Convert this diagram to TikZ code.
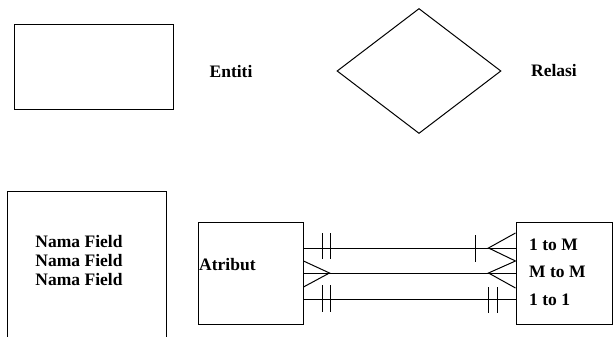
\documentclass[tikz,border=0pt]{standalone}
\usepackage{fontspec}
\setmainfont{Liberation Serif}
\usetikzlibrary{shapes.geometric,calc}
\tikzset{
    er box/.style={
        draw,
        line width=1pt,
        inner sep=0pt
    },
    er label/.style={
        font=\fontsize{17.5}{19}\selectfont\bfseries,
        inner sep=0pt
    },
    er line/.style={
        line width=1pt
    }
}
\begin{document}
\begin{tikzpicture}[x=1pt,y=-1pt]
    \useasboundingbox (0,0) rectangle (613,337);
    \node [er box, minimum width=159pt, minimum height=84pt] (entiti) at (93.5,67) {};
    \node [er label] (entiti label) at (231,72) {Entiti};
    \node [er box, diamond, minimum width=164pt, minimum height=125pt] (relasi) at (419,71) {};
    \node [er label] (relasi label) at (554,71) {Relasi};
    \node [er box, minimum width=159pt, minimum height=170pt] (field) at (86.5,276) {};
    \node [er label, align=left] (field label) at (79,261) {Nama Field\\Nama Field\\Nama Field};
    \node [er box, minimum width=105pt, minimum height=102pt] (atribut) at (250.5,273) {};
    \node [er label, anchor=west] (atribut label) at (199,265) {Atribut};
    \node [er box, minimum width=96pt, minimum height=102pt] (kardinal) at (564,273) {};
    \node [er label, anchor=west] (satu m) at (529,245) {1 to M};
    \node [er label, anchor=west] (m m) at (529,272) {M to M};
    \node [er label, anchor=west] (satu satu) at (529,300) {1 to 1};
    \coordinate (baris 1) at (0,248);
    \coordinate (baris 2) at (0,273);
    \coordinate (baris 3) at (0,299);
    \foreach \b in {1,2,3}
        \draw [er line] (atribut.east |- baris \b) -- (kardinal.west |- baris \b);
    \foreach \dx in {19,27}{
        \draw [er line] ($(atribut.east |- baris 1)+(\dx,-15)$) -- ++(0,26);
        \draw [er line] ($(atribut.east |- baris 3)+(\dx,-14)$) -- ++(0,27);
    }
    \foreach \dx in {-27,-18}
        \draw [er line] ($(kardinal.west |- baris 3)+(\dx,-12)$) -- ++(0,26);
    \draw [er line] ($(kardinal.west |- baris 1)+(-40,-13)$) -- ++(0,27);
    \draw [er line] ($(kardinal.west |- baris 1)+(0,-15)$) -- ++(-27,15) -- ++(27,13);
    \draw [er line] ($(kardinal.west |- baris 2)+(0,-12)$) -- ++(-27,12) -- ++(27,15);
    \draw [er line] ($(atribut.east |- baris 2)+(0,-12)$) -- ++(26,12) -- ++(-26,14);
\end{tikzpicture}
\end{document}
